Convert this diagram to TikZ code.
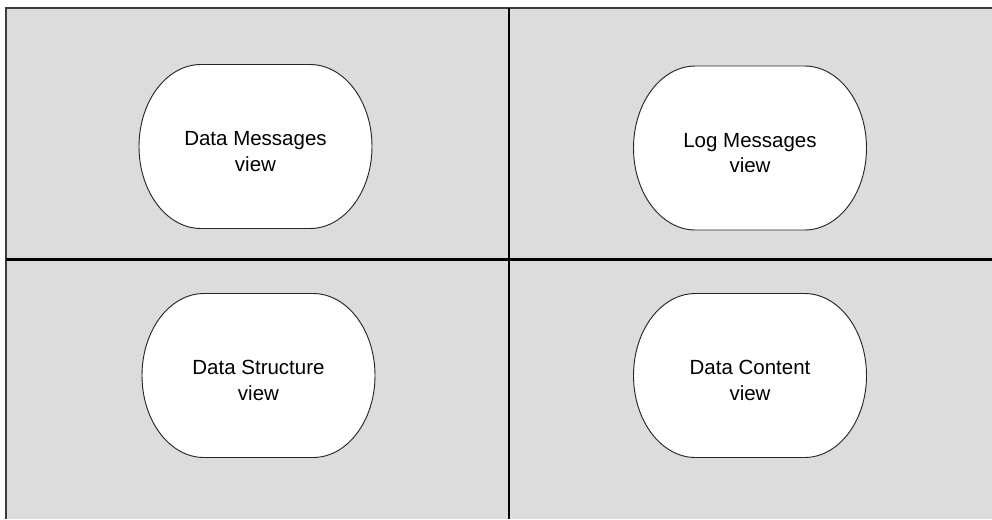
\documentclass[tikz,border=0pt]{standalone}
\usepackage{fontspec}
\setmainfont{Liberation Sans}
\usetikzlibrary{positioning}
\definecolor{panel}{HTML}{DCDCDC}
\definecolor{edge}{HTML}{3C3C3C}

\begin{document}
\begin{tikzpicture}[x=0.03cm, y=-0.03cm,
    viewbox/.style={fill=white, draw=black!85, line width=0.8pt},
    viewtext/.style={align=center, font=\fontsize{17.5}{21.5}\selectfont, inner sep=0pt},
    divider/.style={draw=black, line width=1.8pt}]
  \useasboundingbox (0,0) rectangle (992,519);
  \fill[panel] (6,8) rectangle (992,519);
  \draw[edge, line width=1.6pt] (992,8) -- (6,8) -- (6,519);
  \draw[divider] (6,259.5) -- (992,259.5);
  \draw[divider] (509,8) -- (509,519);
  % the four views: name / centre x / centre y / label
  \foreach \n/\cx/\cy/\t in {dm/255.5/146.5/{Data Messages\\view},
                             lm/750/148/{Log Messages\\view},
                             ds/258.5/375.5/{Data Structure\\view},
                             dc/750/375.5/{Data Content\\view}} {
    \draw[viewbox] (\cx-116.5,\cy) arc[start angle=180, end angle=90, x radius=62, y radius=82]
      -- (\cx+54.5,\cy+82) arc[start angle=90, end angle=-90, x radius=62, y radius=82]
      -- (\cx-54.5,\cy-82) arc[start angle=270, end angle=180, x radius=62, y radius=82] -- cycle;
    \node[viewtext] (\n) at (\cx,\cy+5) {\t};
  }
\end{tikzpicture}
\end{document}
